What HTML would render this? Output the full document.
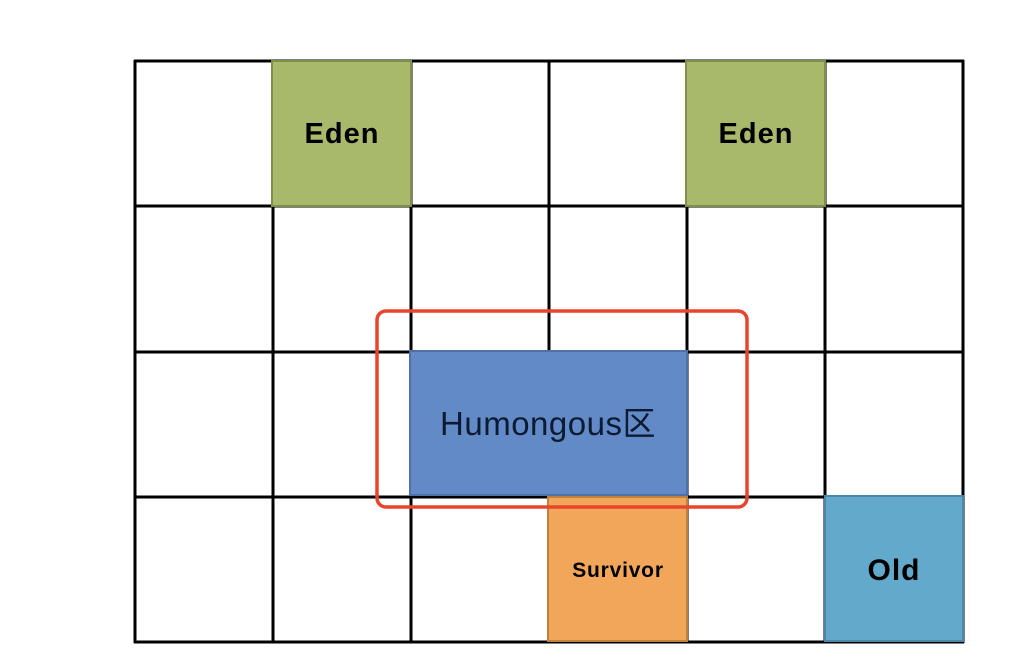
<!DOCTYPE html>
<html><head><meta charset="utf-8"><style>html,body{margin:0;padding:0;background:#fff}svg{display:block}</style></head>
<body>
<svg width="1012" height="658" xmlns="http://www.w3.org/2000/svg" font-family="Liberation Sans, Noto Sans CJK SC, sans-serif">
<rect width="1012" height="658" fill="#fff"/>
<g stroke="#000" stroke-width="3">
<line x1="134" y1="61" x2="964" y2="61"/>
<line x1="134" y1="206" x2="964" y2="206"/>
<line x1="134" y1="352" x2="964" y2="352"/>
<line x1="134" y1="497" x2="964" y2="497"/>
<line x1="134" y1="642" x2="964" y2="642"/>
<line x1="135" y1="60" x2="135" y2="643"/>
<line x1="273" y1="60" x2="273" y2="643"/>
<line x1="411" y1="60" x2="411" y2="643"/>
<line x1="549" y1="60" x2="549" y2="643"/>
<line x1="687" y1="60" x2="687" y2="643"/>
<line x1="825" y1="60" x2="825" y2="643"/>
<line x1="963" y1="60" x2="963" y2="643"/>
</g>
<rect x="272" y="61" width="139" height="145" fill="#a9b96c" stroke="#7f8f4a" stroke-width="2"/>
<rect x="686" y="61" width="139" height="145" fill="#a9b96c" stroke="#7f8f4a" stroke-width="2"/>
<text x="342" y="143" text-anchor="middle" font-size="29" font-weight="bold" letter-spacing="1">Eden</text>
<text x="756" y="143" text-anchor="middle" font-size="29" font-weight="bold" letter-spacing="1">Eden</text>
<rect x="410" y="351" width="277" height="144" fill="#628ac6" stroke="#4e72a8" stroke-width="2"/>
<text x="548" y="435" text-anchor="middle" font-size="33" letter-spacing="0.5" fill="#0d1a33">Humongous区</text>
<rect x="548" y="497" width="139" height="144" fill="#f2a65a" stroke="#c0813f" stroke-width="2"/>
<text x="618" y="577" text-anchor="middle" font-size="21" font-weight="bold" letter-spacing="0.8">Survivor</text>
<rect x="825" y="496" width="138" height="145" fill="#63a9cc" stroke="#4a87a8" stroke-width="2"/>
<text x="894" y="580" text-anchor="middle" font-size="30" font-weight="bold" letter-spacing="1">Old</text>
<rect x="377" y="311" width="370" height="196" rx="9" fill="none" stroke="#e8452c" stroke-width="3.5"/>
</svg>
</body></html>
